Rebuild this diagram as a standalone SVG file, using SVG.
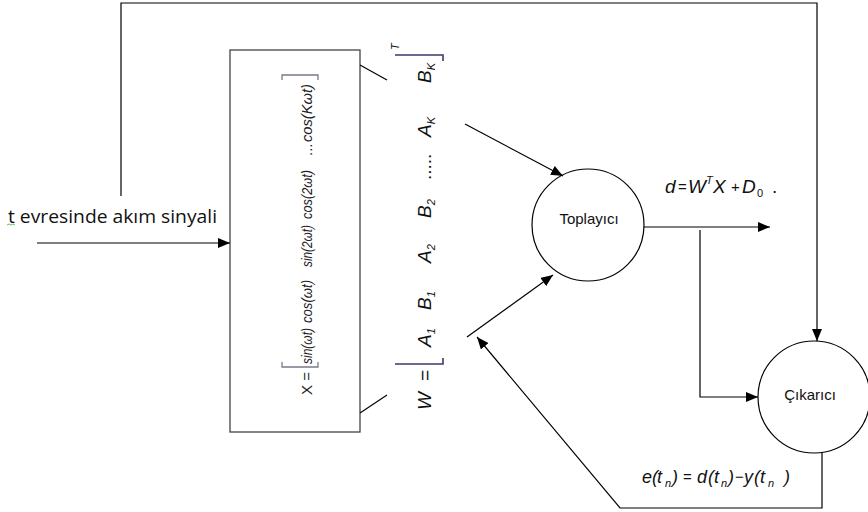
<svg xmlns="http://www.w3.org/2000/svg" width="868" height="512" viewBox="0 0 868 512">
<defs>
<marker id="ah" viewBox="0 0 12 10" refX="12" refY="5" markerWidth="12" markerHeight="10" markerUnits="userSpaceOnUse" orient="auto">
<path d="M0,0 L12,5 L0,10 Z" fill="#000"/>
</marker>
</defs>
<style>
.ln{fill:none;stroke:#000;stroke-width:1.2}
.bx{fill:#fff;stroke:#444;stroke-width:1.3}
.nd{fill:#fff;stroke:#000;stroke-width:1.2}
.lbl{font-family:"Liberation Sans",Arial,sans-serif;font-size:15px;fill:#111}
.m{font-family:"Liberation Sans",Arial,sans-serif;font-size:19px;font-style:italic;fill:#111}
.me{font-family:"Liberation Sans",Arial,sans-serif;font-size:18px;font-style:italic;fill:#111}
.mx{font-family:"Liberation Sans",Arial,sans-serif;font-size:15px;font-style:italic;fill:#222}
.n{font-style:normal}
.op{font-style:normal;font-size:15px}
.s{font-size:11px}
.br{fill:none;stroke:#7a7a8a;stroke-width:1.3}
.bw{fill:none;stroke:#3a3a6a;stroke-width:1.6}
</style>

<g id="input">
<text x="8" y="223" font-family="'Open Sans','Liberation Sans',sans-serif" font-size="19" fill="#111" textLength="209" lengthAdjust="spacingAndGlyphs">t evresinde akım sinyali</text>
<path d="M7,225 L9,224 L11,225 L13,224 L15,225" fill="none" stroke="#4a4" stroke-width="0.8"/>
</g>

<g id="xbox">
<rect class="bx" x="230" y="50" width="130" height="382"/>
<g transform="translate(312,395) rotate(-90)" class="mx">
<text x="0" y="0" font-style="normal">X =</text>
<text x="31" y="0" textLength="36" lengthAdjust="spacingAndGlyphs">sin(ωt)</text>
<text x="72" y="0" textLength="43" lengthAdjust="spacingAndGlyphs">cos(ωt)</text>
<text x="128" y="0" textLength="42" lengthAdjust="spacingAndGlyphs">sin(2ωt)</text>
<text x="176" y="0" textLength="49" lengthAdjust="spacingAndGlyphs">cos(2ωt)</text>
<text x="239" y="0" font-style="normal">...</text>
<text x="253" y="0" textLength="58" lengthAdjust="spacingAndGlyphs">cos(Kωt)</text>
</g>
<path class="br" d="M282,362 L282,367 L318,367 L318,362"/>
<path class="br" d="M282,80 L282,75 L318,75 L318,80"/>
</g>

<g id="wmatrix">
<g transform="translate(431,410) rotate(-90)" class="m">
<text x="0" y="0">W</text>
<text x="29" y="0" font-style="normal">=</text>
<text x="63" y="0">A<tspan class="s" dy="4">1</tspan></text>
<text x="100" y="0">B<tspan class="s" dy="4">1</tspan></text>
<text x="147" y="0">A<tspan class="s" dy="4">2</tspan></text>
<text x="192" y="0">B<tspan class="s" dy="4">2</tspan></text>
<text x="230" y="0" font-style="normal">.....</text>
<text x="273" y="0">A<tspan class="s" dy="4">K</tspan></text>
<text x="327" y="0">B<tspan class="s" dy="4">K</tspan></text>
<text x="360" y="-32" class="s">T</text>
</g>
<path class="bw" d="M395,364 L443,364 L443,358"/>
<path class="bw" d="M395,55 L443,55 L443,61"/>
<line class="ln" x1="360" y1="65" x2="387" y2="80"/>
<line class="ln" x1="360" y1="413" x2="387" y2="395"/>
</g>

<g id="toplayici">
<circle class="nd" cx="588" cy="225" r="56"/>
<text class="lbl" x="589" y="224" text-anchor="middle">Toplayıcı</text>
</g>

<g id="cikarici">
<circle class="nd" cx="814" cy="397" r="56"/>
<text class="lbl" x="810" y="400" text-anchor="middle">Çıkarıcı</text>
</g>

<g id="eq-d" class="m">
<text x="665" y="193">d</text>
<text x="678" y="192" class="op">=</text>
<text x="688" y="193">W</text>
<text x="706" y="184" class="s">T</text>
<text x="713" y="193">X</text>
<text x="731" y="192" class="op">+</text>
<text x="742" y="193">D</text>
<text x="757" y="197" class="s n">0</text>
<text x="772" y="193" class="n">.</text>
</g>

<g id="eq-e" class="me">
<text x="642" y="483">e</text>
<text x="652" y="483">(</text>
<text x="657" y="483">t</text>
<text x="665" y="487" class="s">n</text>
<text x="672" y="483">)</text>
<text x="683" y="482" class="op">=</text>
<text x="697" y="483">d</text>
<text x="708" y="483">(</text>
<text x="714" y="483">t</text>
<text x="721" y="487" class="s">n</text>
<text x="728" y="483">)</text>
<text x="735" y="482" class="op">−</text>
<text x="744" y="483">y</text>
<text x="754" y="483">(</text>
<text x="760" y="483">t</text>
<text x="768" y="487" class="s">n</text>
<text x="784" y="483">)</text>
</g>

<g id="connectors">
<line class="ln" x1="37" y1="243" x2="230" y2="243" marker-end="url(#ah)"/>
<path class="ln" d="M121,196 L121,3 L817,3 L817,341" marker-end="url(#ah)"/>
<line class="ln" x1="465" y1="124" x2="563" y2="176" marker-end="url(#ah)"/>
<line class="ln" x1="467" y1="337" x2="553" y2="275" marker-end="url(#ah)"/>
<line class="ln" x1="644" y1="227" x2="770" y2="227" marker-end="url(#ah)"/>
<path class="ln" d="M700,230 L700,397 L758,397" marker-end="url(#ah)"/>
<path class="ln" d="M822,452 L822,508 L620,508 L477,337" marker-end="url(#ah)"/>
</g>
</svg>
